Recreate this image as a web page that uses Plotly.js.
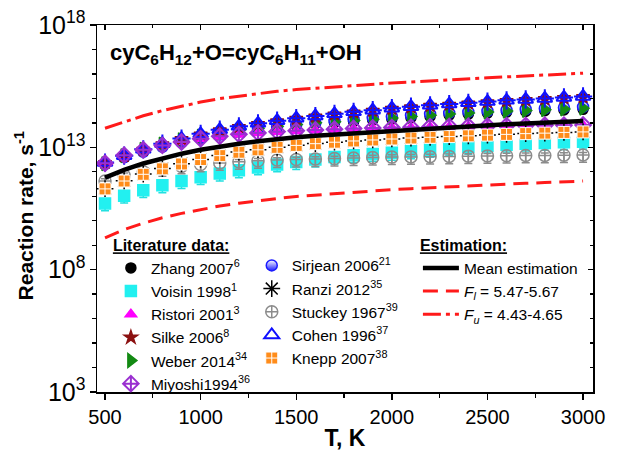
<!DOCTYPE html>
<html>
<head>
<meta charset="utf-8">
<script src="https://cdn.plot.ly/plotly-3.0.1.min.js"></script>
<style>html,body{margin:0;padding:0;background:#fff;}#chart{width:617px;height:451px;}</style>
</head>
<body>
<div id="chart"></div>
<script>
var temperature = [500,600,700,800,900,1000,1100,1200,1300,1400,1500,1600,1700,1800,1900,2000,2100,2200,2300,2400,2500,2600,2700,2800,2900,3000];

var zhang2007 = [2.0e12,4.2e12,7.6e12,1.23e13,1.85e13,2.6e13,3.45e13,4.45e13,5.45e13,6.5e13,7.7e13,9.0e13,1.01e14,1.14e14,1.28e14,1.43e14,1.64e14,1.84e14,2.06e14,2.26e14,2.48e14,2.72e14,2.92e14,3.12e14,3.35e14,3.58e14];
var voisin1998 = [5.1e10,1.05e11,1.78e11,2.8e11,4.2e11,6.0e11,8.5e11,1.15e12,1.51e12,2.0e12,2.5e12,3.16e12,4.0e12,4.8e12,5.4e12,6.0e12,6.9e12,7.9e12,9.1e12,1.05e13,1.17e13,1.29e13,1.41e13,1.51e13,1.62e13,1.7e13];
var ristori2001 = [2.3e12,4.9e12,8.1e12,1.22e13,1.68e13,2.25e13,2.8e13,3.35e13,3.85e13,4.3e13,4.7e13,5.05e13,5.4e13,5.75e13,6.05e13,6.35e13,6.55e13,6.8e13,7.0e13,7.15e13,7.3e13,7.45e13,7.6e13,7.75e13,7.85e13,8.0e13];
var silke2006 = [2.3e12,4.4e12,8.0e12,1.36e13,2.2e13,3.4e13,5.0e13,6.9e13,9.1e13,1.17e14,1.48e14,1.82e14,2.23e14,2.69e14,3.16e14,3.8e14,4.37e14,5.0e14,5.6e14,6.3e14,7.1e14,7.9e14,8.7e14,9.5e14,1.05e15,1.14e15];
var weber2014 = [2.14e12,4.57e12,8.3e12,1.35e13,2.04e13,2.88e13,3.8e13,4.9e13,6.03e13,7.24e13,8.51e13,1.0e14,1.12e14,1.26e14,1.41e14,1.58e14,1.82e14,2.04e14,2.29e14,2.51e14,2.75e14,3.02e14,3.24e14,3.47e14,3.72e14,3.98e14];
var miyoshi1994 = [2.24e12,4.79e12,7.94e12,1.2e13,1.66e13,2.24e13,2.82e13,3.39e13,3.89e13,4.37e13,4.79e13,5.13e13,5.5e13,5.89e13,6.17e13,6.46e13,6.61e13,6.92e13,7.08e13,7.24e13,7.41e13,7.59e13,7.76e13,7.94e13,7.94e13,8.13e13];
var sirjean2006 = [2.1e12,3.9e12,6.6e12,1.05e13,1.6e13,2.35e13,3.3e13,4.4e13,5.6e13,7.0e13,8.5e13,1.02e14,1.2e14,1.4e14,1.6e14,1.82e14,2.05e14,2.3e14,2.55e14,2.8e14,3.05e14,3.3e14,3.6e14,3.9e14,4.2e14,4.5e14];
var ranzi2012 = [2.05e11,4.3e11,8.1e11,1.35e12,2.13e12,3.2e12,4.6e12,6.4e12,8.0e12,1.01e13,1.21e13,1.42e13,1.63e13,1.83e13,2.01e13,2.2e13,2.41e13,2.58e13,2.76e13,2.96e13,3.17e13,3.4e13,3.64e13,3.81e13,4.08e13,4.28e13];
var stuckey1967 = [4.2e11,7.1e11,1.0e12,1.32e12,1.66e12,2.0e12,2.29e12,2.57e12,2.82e12,3.02e12,3.16e12,3.31e12,3.47e12,3.63e12,3.8e12,3.98e12,4.07e12,4.17e12,4.27e12,4.37e12,4.47e12,4.57e12,4.68e12,4.68e12,4.79e12,4.9e12];
var cohen1996 = [2.4e12,4.57e12,8.3e12,1.41e13,2.29e13,3.55e13,5.25e13,7.24e13,9.55e13,1.23e14,1.55e14,1.91e14,2.34e14,2.82e14,3.31e14,3.98e14,4.57e14,5.25e14,5.89e14,6.61e14,7.41e14,8.32e14,9.12e14,1.0e15,1.1e15,1.2e15];
var knepp2007 = [2.0e11,4.2e11,7.9e11,1.32e12,2.09e12,3.16e12,4.57e12,6.3e12,7.9e12,1.0e13,1.2e13,1.41e13,1.62e13,1.82e13,2.0e13,2.19e13,2.4e13,2.57e13,2.75e13,2.95e13,3.16e13,3.39e13,3.63e13,3.8e13,4.07e13,4.27e13];

var meanEstimation = [5.75e11,1.2e12,2.19e12,3.55e12,5.5e12,7.94e12,1.1e13,1.41e13,1.78e13,2.19e13,2.57e13,2.95e13,3.31e13,3.8e13,4.27e13,4.79e13,5.25e13,5.89e13,6.46e13,7.24e13,7.94e13,8.71e13,9.33e13,1.02e14,1.1e14,1.2e14];
var lowerLimit = [2.0e9,4.4e9,7.9e9,1.32e10,2.0e10,2.9e10,4.0e10,5.2e10,6.6e10,8.1e10,9.8e10,1.12e11,1.29e11,1.48e11,1.66e11,1.86e11,2.04e11,2.24e11,2.45e11,2.69e11,2.88e11,3.16e11,3.39e11,3.63e11,3.89e11,4.17e11];
var upperLimit = [6.0e13,1.12e14,1.95e14,3.16e14,4.9e14,7.1e14,9.8e14,1.26e15,1.58e15,1.95e15,2.29e15,2.63e15,3.02e15,3.39e15,3.8e15,4.27e15,4.68e15,5.25e15,5.75e15,6.31e15,6.92e15,7.59e15,8.32e15,9.12e15,9.77e15,1.07e16];

var FONT = 'Arial, "Liberation Sans", sans-serif';

function pts(name, y, sym, color, size, legend, rank, extra) {
  var t = {
    type: 'scatter', mode: 'markers', name: name, x: temperature, y: y,
    legend: legend, legendrank: rank,
    marker: {symbol: sym, color: color, size: size, line: {color: color, width: 1.5}}
  };
  if (extra) { for (var k in extra) t[k] = extra[k]; }
  return t;
}

var traces = [
  pts('Zhang 2007<sup>6</sup>', zhang2007, 'circle', '#000000', 10, 'legend', 1),
  pts('Sirjean 2006<sup>21</sup>', sirjean2006, 'circle', '#ffffff', 10, 'legend2', 1,
      {marker: {symbol: 'circle', color: '#ffffff', size: 11, line: {color: '#1a1aff', width: 1.5}, gradient: {type: 'vertical', color: '#1a1aff'}}}),
  pts('Weber 2014<sup>34</sup>', weber2014, 'triangle-right', '#138a13', 12, 'legend', 5),
  pts('Ristori 2001<sup>3</sup>', ristori2001, 'triangle-up', '#ff00ff', 10, 'legend', 3),
  pts('Silke 2006<sup>8</sup>', silke2006, 'star', '#8b1010', 10, 'legend', 4),
  pts('Cohen 1996<sup>37</sup>', cohen1996, 'triangle-up-open', '#1010ff', 13, 'legend2', 4,
      {marker: {symbol: 'triangle-up-open', color: '#1010ff', size: 13, line: {color: '#1010ff', width: 2}}}),
  pts('Cohen cross', cohen1996, 'cross-thin-open', '#1010ff', 13, 'legend2', 99,
      {showlegend: false, marker: {symbol: 'cross-thin-open', color: '#1010ff', size: 13, line: {color: '#1010ff', width: 2}}}),
  pts('Miyoshi1994<sup>36</sup>', miyoshi1994, 'diamond-cross-open', '#9a2fd0', 12, 'legend', 6,
      {marker: {symbol: 'diamond-cross-open', color: '#9a2fd0', size: 12, line: {color: '#9a2fd0', width: 2}}}),
  pts('Voisin 1998<sup>1</sup>', voisin1998, 'square', '#22f0f0', 11, 'legend', 2,
      {error_y: {type: 'percent', symmetric: false, value: 25, valueminus: 50, color: '#22e0e0', thickness: 1.5, width: 4}}),
  pts('Stuckey 1967<sup>39</sup>', stuckey1967, 'circle-cross-open', '#8c8c8c', 12, 'legend2', 3,
      {error_y: {type: 'percent', symmetric: false, value: 25, valueminus: 50, color: '#8c8c8c', thickness: 1.5, width: 4}}),
  pts('Ranzi 2012<sup>35</sup>', ranzi2012, 'asterisk-open', '#000000', 14, 'legend2', 2),
  pts('Knepp 2007<sup>38</sup>', knepp2007, 'square-cross', '#ff8c1a', 12, 'legend2', 5,
      {marker: {symbol: 'square-cross', color: '#ff8c1a', size: 12, line: {color: '#ffffff', width: 1}},
       error_y: {type: 'percent', symmetric: false, value: 40, valueminus: 35, color: '#ff8c1a', thickness: 1.5, width: 3}}),
  {type: 'scatter', mode: 'lines', name: '<i>F</i><sub><i>l</i></sub> = 5.47-5.67', x: temperature, y: lowerLimit,
   legend: 'legend3', legendrank: 2, line: {color: '#ff1a1a', width: 3, dash: '15px,8px'}},
  {type: 'scatter', mode: 'lines', name: '<i>F</i><sub><i>u</i></sub> = 4.43-4.65', x: temperature, y: upperLimit,
   legend: 'legend3', legendrank: 3, line: {color: '#ff1a1a', width: 3, dash: '18px,5px,4px,5px'}},
  {type: 'scatter', mode: 'lines', name: 'Mean estimation', x: temperature, y: meanEstimation,
   legend: 'legend3', legendrank: 1, line: {color: '#000000', width: 4.5}},
  {type: 'scatter', mode: 'markers', x: [], y: [], xaxis: 'x2', yaxis: 'y2', showlegend: false, hoverinfo: 'skip'}
];

var yMinor = {dtick: 1, ticklen: 4, tickwidth: 1.3, tickcolor: '#000', ticks: 'outside'};
var legendBase = {
  bgcolor: 'rgba(0,0,0,0)', borderwidth: 0, xanchor: 'left', yanchor: 'top',
  font: {family: FONT, size: 15.5, color: '#000'}, itemwidth: 30, tracegroupgap: 0,
  traceorder: 'normal', itemclick: false, itemdoubleclick: false
};
function legendOf(extra) { var o = {}; for (var k in legendBase) o[k] = legendBase[k]; for (var j in extra) o[j] = extra[j]; return o; }

var layout = {
  width: 617, height: 451,
  margin: {l: 97, r: 24, t: 25, b: 59},
  paper_bgcolor: '#ffffff', plot_bgcolor: '#ffffff',
  font: {family: FONT, color: '#000'},
  showlegend: true,
  xaxis: {
    range: [458, 3052], tick0: 500, dtick: 500, ticks: 'outside', ticklen: 6, tickwidth: 1.3, tickcolor: '#000',
    minor: {dtick: 250, ticklen: 4, tickwidth: 1.3, tickcolor: '#000', ticks: 'outside'},
    showline: true, linecolor: '#000', linewidth: 1.5, mirror: true, showgrid: false, zeroline: false,
    tickfont: {family: FONT, size: 20, color: '#000'},
    title: {text: '<b>T, K</b>', font: {family: FONT, size: 23, color: '#000'}, standoff: 10}
  },
  yaxis: {
    type: 'log', range: [3, 18], tick0: 3, dtick: 5, exponentformat: 'power',
    ticks: 'outside', ticklen: 6, tickwidth: 1.3, tickcolor: '#000', minor: yMinor,
    showline: true, linecolor: '#000', linewidth: 1.5, mirror: true, showgrid: false, zeroline: false,
    tickfont: {family: FONT, size: 20, color: '#000'}
  },
  xaxis2: {
    overlaying: 'x', side: 'top', range: [458, 3052], tick0: 500, dtick: 500, ticks: 'inside', ticklen: 5,
    tickwidth: 1.3, tickcolor: '#000', minor: {dtick: 250, ticklen: 3, tickwidth: 1.3, tickcolor: '#000', ticks: 'inside'},
    showticklabels: false, showline: false, showgrid: false, zeroline: false
  },
  yaxis2: {
    overlaying: 'y', side: 'right', type: 'log', range: [3, 18], tick0: 3, dtick: 5, ticks: 'inside', ticklen: 5,
    tickwidth: 1.3, tickcolor: '#000', minor: {dtick: 1, ticklen: 3, tickwidth: 1.3, tickcolor: '#000', ticks: 'inside'},
    showticklabels: false, showline: false, showgrid: false, zeroline: false
  },
  legend: legendOf({x: 0.028, y: 0.44, title: {text: '<b><u>Literature data:</u></b>', font: {family: FONT, size: 16, color: '#000'}}}),
  legend2: legendOf({x: 0.312, y: 0.39}),
  legend3: legendOf({x: 0.647, y: 0.44, itemwidth: 36, title: {text: '<b><u>Estimation:</u></b>', font: {family: FONT, size: 16, color: '#000'}}}),
  annotations: [{
    xref: 'paper', yref: 'paper', x: 0.022, y: 0.92, xanchor: 'left', yanchor: 'middle', showarrow: false,
    text: '<b>cyC<sub>6</sub>H<sub>12</sub>+O=cyC<sub>6</sub>H<sub>11</sub>+OH</b>',
    font: {family: FONT, size: 22, color: '#000'}
  }, {
    xref: 'paper', yref: 'paper', x: -0.148, y: 0.48, xanchor: 'center', yanchor: 'middle', showarrow: false,
    textangle: -90, text: '<b>Reaction rate, s<sup>-1</sup></b>',
    font: {family: FONT, size: 21, color: '#000'}
  }]
};

Plotly.newPlot('chart', traces, layout, {displayModeBar: false, staticPlot: true});
</script>
</body>
</html>
